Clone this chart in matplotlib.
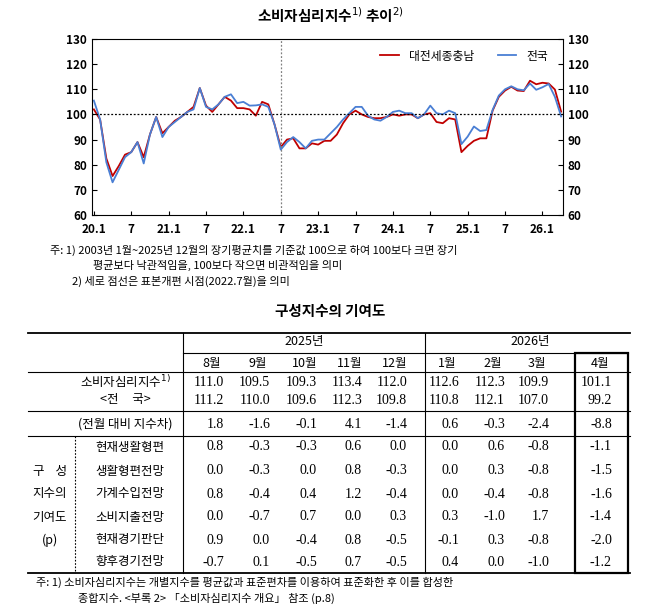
import numpy as np
import matplotlib.pyplot as plt

plt.rcParams['font.family'] = ['Noto Sans CJK KR', 'DejaVu Sans']

# monthly 2020.1 ~ 2026.4
region = [102, 98, 82.5, 75.5, 79.5, 84, 85, 89, 83, 92, 99, 92.5,
          95, 97.5, 99, 101, 103, 110.5, 103.5, 101, 104, 107, 105.5, 102.5,
          102.5, 102, 99.5, 105, 104, 96, 87, 90, 90.5, 86.5, 86.5, 88.5,
          88, 89.5, 89.5, 92, 96.5, 100, 101.5, 100, 99, 98.5, 98.5, 99,
          100, 99.5, 100, 100, 98.5, 100, 100.5, 97, 96.5, 98.5, 98, 85,
          87.5, 89.5, 90.5, 90.5, 101.5, 107, 109.5, 111.0, 109.5, 109.3, 113.4, 112.0,
          112.6, 112.3, 109.9, 101.1]
nation = [105.5, 98, 81, 73, 78, 83, 85, 89, 80.5, 92, 99, 91,
          95, 97, 99, 101, 102, 110.5, 103, 102, 104, 107, 108, 104.5,
          105, 103.5, 103.6, 104, 103, 96, 86, 89, 91, 89, 86.5, 89.5,
          90, 90, 92.5, 95, 98, 100.5, 103, 103, 99.5, 98, 97.5, 99,
          101, 101.5, 100.5, 100.5, 98.5, 100, 103.5, 100.5, 100, 101.5, 100.5, 88.2,
          91.2, 95.2, 93.4, 93.8, 101.8, 107.5, 110, 111.2, 110.0, 109.6, 112.3, 109.8,
          110.8, 112.1, 107.0, 99.2]
xtick_labels = ['20.1', '7', '21.1', '7', '22.1', '7', '23.1', '7', '24.1', '7', '25.1', '7', '26.1']

months = ['8월', '9월', '10월', '11월', '12월', '1월', '2월', '3월', '4월']
csi_region = ['111.0', '109.5', '109.3', '113.4', '112.0', '112.6', '112.3', '109.9', '101.1']
csi_nation = ['111.2', '110.0', '109.6', '112.3', '109.8', '110.8', '112.1', '107.0', '99.2']
diff = ['1.8', '-1.6', '-0.1', '4.1', '-1.4', '0.6', '-0.3', '-2.4', '-8.8']
comp_names = ['현재생활형편', '생활형편전망', '가계수입전망', '소비지출전망', '현재경기판단', '향후경기전망']
comp_vals = [
    ['0.8', '-0.3', '-0.3', '0.6', '0.0', '0.0', '0.6', '-0.8', '-1.1'],
    ['0.0', '-0.3', '0.0', '0.8', '-0.3', '0.0', '0.3', '-0.8', '-1.5'],
    ['0.8', '-0.4', '0.4', '1.2', '-0.4', '0.0', '-0.4', '-0.8', '-1.6'],
    ['0.0', '-0.7', '0.7', '0.0', '0.3', '0.3', '-1.0', '1.7', '-1.4'],
    ['0.9', '0.0', '-0.4', '0.8', '-0.5', '-0.1', '0.3', '-0.8', '-2.0'],
    ['-0.7', '0.1', '-0.5', '0.7', '-0.5', '0.4', '0.0', '-1.0', '-1.2'],
]

fig = plt.figure(figsize=(6.58, 6.10), dpi=100)

# line chart
ax = fig.add_axes([92 / 658, 1 - 215 / 610, 471 / 658, 176 / 610])
x = np.arange(len(region))
ax.plot(x, region, color='#c00000', lw=1.3, label='대전세종충남')
ax.plot(x, nation, color='#4a7fd4', lw=1.3, label='전국')
ax.axhline(100, color='black', ls=(0, (1.5, 1.5)), lw=0.9)
ax.axvline(30, color='gray', ls=(0, (1.5, 1.5)), lw=0.9)
ax.set_xlim(-0.3, 75.3)
ax.set_ylim(60, 130)
ax.set_xticks(np.arange(0, 73, 6))
ax.set_xticklabels(xtick_labels, fontsize=8.5, fontweight='bold')
ax.set_yticks(np.arange(60, 131, 10))
ax.tick_params(axis='y', labelsize=8.5, direction='in', right=True, labelright=True)
ax.tick_params(axis='x', direction='in', length=3, pad=6)
for lab in ax.get_yticklabels():
    lab.set_fontweight('bold')
ax.legend(loc='upper right', frameon=False, ncol=2, fontsize=8.5, handlelength=1.6,
          columnspacing=2.0, bbox_to_anchor=(0.99, 1.0))
fig.text(330 / 658, 1 - 15 / 610, '소비자심리지수$^{1)}$ 추이$^{2)}$', ha='center', va='center',
         fontsize=10.5, fontweight='bold')

fig.text(50 / 658, 1 - 250 / 610, '주: 1) 2003년 1월~2025년 12월의 장기평균치를 기준값 100으로 하여 100보다 크면 장기',
         fontsize=8, va='center')
fig.text(93 / 658, 1 - 265 / 610, '평균보다 낙관적임을, 100보다 작으면 비관적임을 의미', fontsize=8, va='center')
fig.text(72 / 658, 1 - 281 / 610, '2) 세로 점선은 표본개편 시점(2022.7월)을 의미', fontsize=8, va='center')

fig.text(330 / 658, 1 - 311 / 610, '구성지수의 기여도', ha='center', va='center',
         fontsize=10.5, fontweight='bold')

# table drawn in pixel coordinates
tb = fig.add_axes([0, 0, 1, 1])
tb.set_xlim(0, 658)
tb.set_ylim(610, 0)
tb.axis('off')
fs = 9
numfont = ['Liberation Serif', 'Noto Sans CJK KR']
col_x = [212, 258, 305, 350, 395, 447, 493, 537, 600]

for y, lw in [(333, 1.3), (372, 0.8), (411, 0.8), (436, 0.8), (573, 1.3)]:
    tb.plot([28, 630], [y, y], color='black', lw=lw)
tb.plot([183, 628], [353, 353], color='black', lw=0.8)
tb.plot([183, 183], [333, 573], color='black', lw=0.8)
tb.plot([425, 425], [333, 573], color='black', lw=0.8)
tb.plot([75, 75], [436, 573], color='black', lw=0.8, ls=(0, (1.5, 1.5)))
tb.add_patch(plt.Rectangle((575, 353), 53, 220, fill=False, lw=1.6, ec='black'))

tb.text(304, 342, '2025년', ha='center', va='center', fontsize=fs)
tb.text(530, 342, '2026년', ha='center', va='center', fontsize=fs)
for cx, m in zip(col_x, months):
    tb.text(cx, 363, m, ha='center', va='center', fontsize=fs)

tb.text(125, 382, '소비자심리지수$^{1)}$', ha='center', va='center', fontsize=fs)
tb.text(125, 400, '<전     국>', ha='center', va='center', fontsize=fs)
tb.text(125, 424, '(전월 대비 지수차)', ha='center', va='center', fontsize=fs)
for cx, a, b, d in zip(col_x, csi_region, csi_nation, diff):
    tb.text(cx + 12, 382, a, ha='right', va='center', fontsize=fs + 1, family=numfont)
    tb.text(cx + 12, 400, b, ha='right', va='center', fontsize=fs + 1, family=numfont)
    tb.text(cx + 12, 424, d, ha='right', va='center', fontsize=fs + 1, family=numfont)

row_y = [447, 471, 494, 517, 540, 562]
for yy, name, vals in zip(row_y, comp_names, comp_vals):
    tb.text(130, yy, name, ha='center', va='center', fontsize=fs)
    for cx, v in zip(col_x, vals):
        tb.text(cx + 12, yy, v, ha='right', va='center', fontsize=fs + 1, family=numfont)

for yy, t in zip([471, 494, 517, 540], ['구    성', '지수의', '기여도', '(p)']):
    tb.text(50, yy, t, ha='center', va='center', fontsize=fs)

tb.text(36, 582, '주: 1) 소비자심리지수는 개별지수를 평균값과 표준편차를 이용하여 표준화한 후 이를 합성한',
        va='center', fontsize=8)
tb.text(78, 598, '종합지수. <부록 2> 「소비자심리지수 개요」 참조 (p.8)', va='center', fontsize=8)

fig.savefig('out.png', dpi=100)
